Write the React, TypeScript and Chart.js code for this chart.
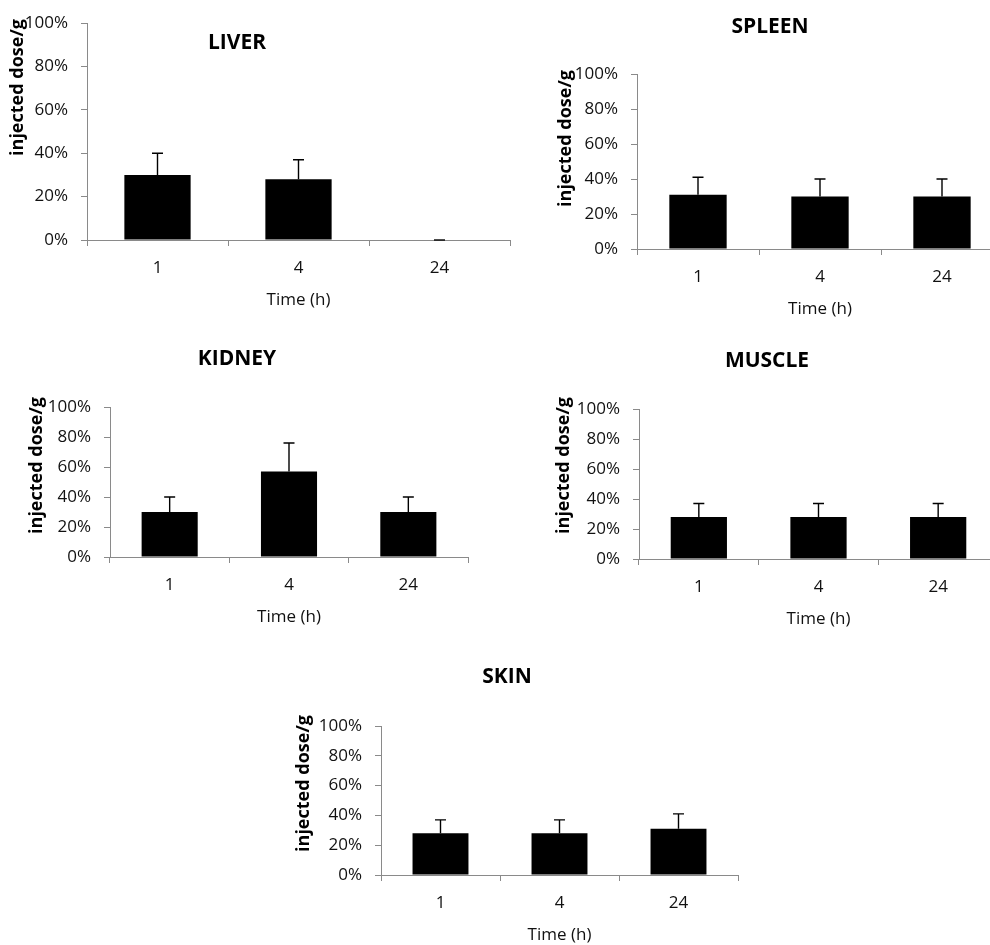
import React, { useEffect, useRef } from 'react';
import { Chart, registerables } from 'chart.js';

Chart.register(...registerables);

// ---------- data ----------
const categories = ['1', '4', '24'];
const tickValues = [0, 20, 40, 60, 80, 100];
const xAxisTitle = 'Time (h)';
const yAxisTitle = 'injected dose/g';

const liverValues = [30, 28, 0];
const liverErrors = [10, 9, 0];
const spleenValues = [31, 30, 30];
const spleenErrors = [10, 10, 10];
const kidneyValues = [30, 57, 30];
const kidneyErrors = [10, 19, 10];
const muscleValues = [28, 28, 28];
const muscleErrors = [9, 9, 9];
const skinValues = [28, 28, 31];
const skinErrors = [9, 9, 10];

// ---------- layout (page px) ----------
const PANELS = [
  { title: 'LIVER', values: liverValues, errors: liverErrors, plot: [87, 23, 510, 240], titlePos: [237, 43], yTitlePos: [18, 19] },
  { title: 'SPLEEN', values: spleenValues, errors: spleenErrors, plot: [637, 74, 1003, 249], titlePos: [770, 27], yTitlePos: [566, 70] },
  { title: 'KIDNEY', values: kidneyValues, errors: kidneyErrors, plot: [110, 407, 468, 557], titlePos: [237, 359], yTitlePos: [37, 397] },
  { title: 'MUSCLE', values: muscleValues, errors: muscleErrors, plot: [639, 409, 998, 559], titlePos: [767, 361], yTitlePos: [564, 397] },
  { title: 'SKIN', values: skinValues, errors: skinErrors, plot: [381, 726, 738, 875], titlePos: [507, 677], yTitlePos: [304, 715] },
];

const Y_W = 100;
const TOP_PAD = 70;
const X_H = 80;
const RIGHT_PAD = 10;
const AXIS = '#8a8a8a';
const TXT = '#111';
const FAMILY = "'Open Sans', 'DejaVu Sans', sans-serif";

const errorBarPlugin = {
  id: 'errorBars',
  afterDatasetsDraw(chart: any, _args: any, opts: any) {
    const { ctx } = chart;
    const meta = chart.getDatasetMeta(0);
    const ys = chart.scales.y;
    const values: number[] = opts.values || [];
    const errors: number[] = opts.errors || [];
    ctx.save();
    ctx.strokeStyle = '#000';
    ctx.lineWidth = 1.4;
    meta.data.forEach((bar: any, i: number) => {
      const v = values[i];
      const e = errors[i];
      const yBar = ys.getPixelForValue(v);
      const yTop = ys.getPixelForValue(v + e);
      ctx.beginPath();
      ctx.moveTo(bar.x, yBar);
      ctx.lineTo(bar.x, yTop);
      ctx.moveTo(bar.x - 5.5, yTop);
      ctx.lineTo(bar.x + 5.5, yTop);
      ctx.stroke();
    });
    ctx.restore();
  },
};

const panelTextPlugin = {
  id: 'panelText',
  afterDraw(chart: any, _args: any, opts: any) {
    const { ctx } = chart;
    ctx.save();
    ctx.fillStyle = '#000';
    ctx.font = `bold 21px ${FAMILY}`;
    ctx.textAlign = 'center';
    ctx.textBaseline = 'middle';
    ctx.fillText(opts.title, opts.tx, opts.ty);
    ctx.translate(opts.yx, opts.yy);
    ctx.rotate(-Math.PI / 2);
    ctx.font = `bold 18px ${FAMILY}`;
    ctx.textAlign = 'right';
    ctx.textBaseline = 'middle';
    ctx.fillText(yAxisTitle, 0, 0);
    ctx.restore();
  },
};

function Panel({ p }: { p: any }) {
  const ref = useRef<HTMLCanvasElement | null>(null);
  const [l, t, r, b] = p.plot;
  const cl = l - Y_W;
  const ct = t - TOP_PAD;
  const cw = r - l + Y_W + RIGHT_PAD;
  const ch = b - t + TOP_PAD + X_H;

  useEffect(() => {
    const font = { family: FAMILY, size: 17 };
    const chart = new Chart(ref.current as HTMLCanvasElement, {
      type: 'bar',
      data: {
        labels: categories,
        datasets: [
          {
            data: p.values,
            backgroundColor: '#000',
            borderWidth: 0,
            barPercentage: 0.47,
            categoryPercentage: 1,
          },
        ],
      },
      options: {
        animation: false,
        responsive: false,
        maintainAspectRatio: false,
        layout: { padding: { top: TOP_PAD, right: RIGHT_PAD, left: 0, bottom: 0 } },
        plugins: {
          legend: { display: false },
          tooltip: { enabled: false },
          title: { display: false },
          errorBars: { values: p.values, errors: p.errors },
          panelText: {
            title: p.title,
            tx: p.titlePos[0] - cl,
            ty: p.titlePos[1] - ct,
            yx: p.yTitlePos[0] - cl,
            yy: p.yTitlePos[1] - ct,
          },
        } as any,
        scales: {
          x: {
            grid: { offset: true, drawOnChartArea: false, drawTicks: true, tickLength: 6, color: AXIS },
            border: { color: AXIS, width: 1 },
            ticks: { color: TXT, font, padding: 12, maxRotation: 0 },
            title: { display: true, text: xAxisTitle, color: TXT, font, padding: { top: 0, bottom: 10 } },
            afterFit: (s: any) => {
              s.height = X_H;
            },
          },
          y: {
            min: 0,
            max: 100,
            afterBuildTicks: (s: any) => {
              s.ticks = tickValues.map((v) => ({ value: v }));
            },
            ticks: { color: TXT, font, padding: 13, callback: (v: any) => v + '%' },
            grid: { drawOnChartArea: false, drawTicks: true, tickLength: 6, color: AXIS },
            border: { color: AXIS, width: 1 },
            afterFit: (s: any) => {
              s.width = Y_W;
            },
          },
        },
      } as any,
      plugins: [errorBarPlugin, panelTextPlugin],
    });
    return () => chart.destroy();
  }, []);

  return (
    <canvas
      ref={ref}
      width={cw}
      height={ch}
      style={{ position: 'absolute', left: cl, top: ct, width: cw, height: ch }}
    />
  );
}

export default function App() {
  return (
    <div
      style={{
        position: 'absolute',
        left: 0,
        top: 0,
        width: 990,
        height: 945,
        overflow: 'hidden',
        background: '#fff',
      }}
    >
      {PANELS.map((p) => (
        <Panel key={p.title} p={p} />
      ))}
    </div>
  );
}
